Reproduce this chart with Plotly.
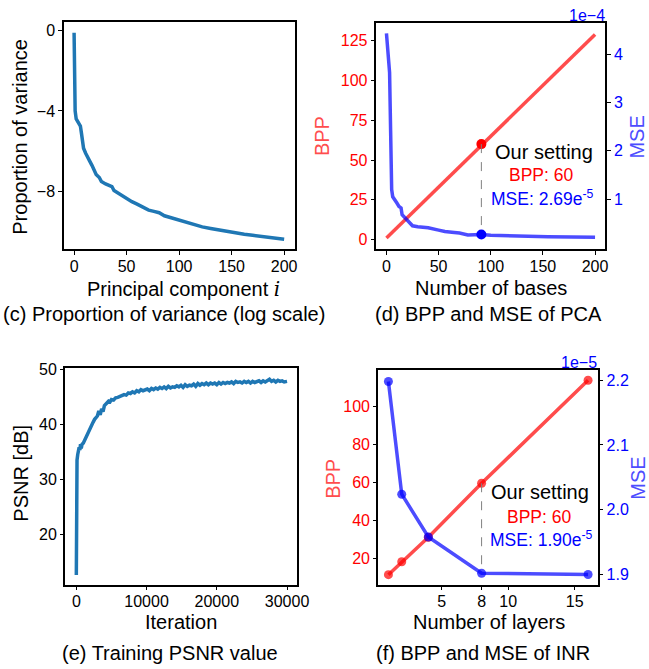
import plotly.graph_objects as go

W, H = 649, 669
FIG_W = 664   # page comes out horizontally squeezed by ~649/664, so lay out wider
FONT = "Liberation Sans, Arial, sans-serif"

# ---------------- data ----------------
# (c) proportion of variance (log scale)
VAR_X = [0, 1, 2, 4, 6, 7, 8, 9, 11, 13, 15, 17, 19, 21, 24, 26, 30, 34, 36, 38, 42, 46,
         50, 55, 60, 65, 71, 76, 81, 86, 91, 100, 110, 122, 130, 138, 146, 154, 162, 170,
         178, 186, 193, 200]
VAR_Y = [-0.12, -4.0, -4.4, -4.6, -4.75, -5.1, -5.5, -5.85, -6.1, -6.35, -6.5, -6.7, -6.9,
         -7.15, -7.3, -7.5, -7.62, -7.72, -7.75, -7.95, -8.08, -8.25, -8.35, -8.5, -8.62,
         -8.75, -8.92, -8.98, -9.05, -9.2, -9.28, -9.42, -9.58, -9.75, -9.83, -9.91, -9.99,
         -10.06, -10.12, -10.17, -10.22, -10.27, -10.31, -10.36]

# (d) BPP and MSE of PCA
PCA_BPP_X = [0, 200]
PCA_BPP = [1.0, 128.9]
PCA_MSE_X = [0, 1, 2, 3, 4, 5, 6, 8, 10, 12, 14, 15, 17, 20, 23, 25, 30, 40, 50, 56, 65,
             70, 78, 85, 91, 100, 123, 155, 200]
PCA_MSE_E4 = [4.43, 4.15, 3.8, 3.62, 2.4, 1.2, 1.05, 0.97, 0.92, 0.85, 0.82, 0.68, 0.63,
              0.57, 0.49, 0.45, 0.43, 0.41, 0.36, 0.33, 0.31, 0.30, 0.26, 0.265, 0.269,
              0.255, 0.235, 0.22, 0.21]   # units of 1e-4
PCA_SEL_X = 91
PCA_SEL_BPP = 60
PCA_SEL_MSE_E4 = 0.269

# (e) training PSNR
ITER = [0, 30, 60, 100, 200, 300, 400, 500, 600, 700, 800, 1000, 1200, 1400, 1600, 1800,
        2000, 2200, 2400, 2600, 2800, 3000, 3200, 3400, 3600, 3800, 4000, 4200, 4400, 4600,
        4800, 5000, 5300, 5600, 5900, 6200, 6500, 6800, 7100, 7400, 7700, 8000, 8300, 8600,
        8900, 9200, 9500, 9800, 10100, 10400, 10700, 11000, 11300, 11600, 11900, 12200,
        12500, 12800, 13100, 13400, 13700, 14000, 14300, 14600, 14900, 15200, 15500, 15800,
        16100, 16400, 16700, 17000, 17300, 17600, 17900, 18200, 18500, 18800, 19100, 19400,
        19700, 20000, 20300, 20600, 20900, 21200, 21500, 21800, 22100, 22400, 22700, 23000,
        23300, 23600, 23900, 24200, 24500, 24800, 25100, 25400, 25700, 26000, 26300, 26600,
        26900, 27200, 27500, 27800, 28100, 28400, 28700, 29000, 29300, 29600, 30000]
PSNR = [12.6, 25.0, 31.5, 33.5, 34.5, 35.3, 35.8, 35.3, 36.4, 35.6, 36.3, 36.6, 37.2, 37.6,
        38.1, 38.6, 39.3, 40.0, 40.4, 40.9, 41.2, 41.5, 42.4, 41.7, 42.8, 42.3, 43.4, 43.6,
        44.0, 44.2, 44.1, 44.5, 44.4, 44.8, 44.9, 45.1, 45.3, 45.4, 45.3, 45.7, 45.6, 45.9,
        45.7, 46.1, 45.9, 46.3, 46.1, 46.2, 46.4, 46.1, 46.5, 46.3, 46.6, 46.4, 46.7, 46.5,
        46.8, 46.5, 46.9, 46.6, 46.8, 46.7, 47.0, 46.8, 47.1, 46.7, 47.2, 46.9, 47.1, 47.0,
        47.3, 46.9, 47.4, 47.1, 47.4, 47.2, 47.5, 47.2, 47.5, 47.3, 47.5, 47.2, 47.6, 47.3,
        47.6, 47.4, 47.6, 47.5, 47.7, 47.4, 47.8, 47.6, 47.7, 47.5, 47.8, 47.6, 47.8, 47.5,
        47.8, 47.6, 47.7, 47.9, 47.6, 47.9, 47.7, 48.0, 48.2, 47.8, 48.0, 47.7, 48.0, 47.8,
        47.9, 47.7, 47.8]

# (f) BPP and MSE of INR
LAYERS = [1, 2, 4, 8, 16]
INR_BPP = [11.3, 18.1, 31.1, 59.6, 114.0]
INR_MSE_E5 = [2.198, 2.024, 1.958, 1.902, 1.900]   # units of 1e-5
INR_SEL_X = 8
INR_SEL_BPP = 59.6
INR_SEL_MSE_E5 = 1.902

# ---------------- styling ----------------
BLUE_T = "#1f77b4"
RED_A = "rgba(255,0,0,0.7)"
BLUE_A = "rgba(0,0,255,0.7)"
RED_TITLE = "#ff4d4d"
BLUE_TITLE = "#4d4dff"


def px_x(p):
    return p / W


def px_y(p):
    return 1 - p / H


DOM = {
    "c": ([px_x(63.3), px_x(293.3)], [px_y(245), px_y(15)]),
    "d": ([px_x(374.3), px_x(602.7)], [px_y(245), px_y(16)]),
    "e": ([px_x(65), px_x(296)], [px_y(584), px_y(365)]),
    "f": ([px_x(376.7), px_x(595.3)], [px_y(584), px_y(366.7)]),
}

RANGES = {
    "c_x": [-10, 210], "c_y": [-10.87, 0.42],
    "d_x": [-10, 210], "d_y": [-6.2, 136.2], "d_y2": [-0.04, 4.65],
    "e_x": [-1570, 31470], "e_y": [10.8, 50.2],
    "f_x": [0.25, 16.75], "f_y": [5.9, 119.5], "f_y2": [1.884, 2.216],
}

TICKF = 16


def axis(domain, rng, anchor, tickvals, tickcolor="black", side=None, mirror=True,
         overlaying=None, ticktext=None, is_x=False):
    a = dict(domain=domain, range=rng, anchor=anchor, showgrid=False, zeroline=False,
             showline=True, linecolor="black", linewidth=1.6, mirror=mirror,
             ticks="outside", ticklen=3.5, tickwidth=1.2, tickcolor="black",
             tickvals=tickvals, tickfont=dict(family=FONT, size=TICKF, color=tickcolor))
    if is_x:
        a["ticklabelstandoff"] = -2
        a["tickformat"] = "d"
    if ticktext is not None:
        a["ticktext"] = ticktext
    if side:
        a["side"] = side
    if overlaying:
        a["overlaying"] = overlaying
        a.pop("domain")
    return a


fig = go.Figure()

# (c)
fig.add_trace(go.Scatter(x=VAR_X, y=VAR_Y, mode="lines", line=dict(color=BLUE_T, width=3.5),
                         xaxis="x", yaxis="y"))
# (d)
fig.add_trace(go.Scatter(x=PCA_BPP_X, y=PCA_BPP, mode="lines", line=dict(color=RED_A, width=3.5),
                         xaxis="x2", yaxis="y2"))
d_lo, d_hi = RANGES["d_y"]
m_lo, m_hi = RANGES["d_y2"]
sel_top_d = m_lo + (PCA_SEL_BPP - d_lo) / (d_hi - d_lo) * (m_hi - m_lo)
fig.add_trace(go.Scatter(x=[PCA_SEL_X, PCA_SEL_X], y=[sel_top_d, PCA_SEL_MSE_E4], mode="lines",
                         line=dict(color="gray", width=1, dash="dash"), xaxis="x2", yaxis="y3"))
fig.add_trace(go.Scatter(x=PCA_MSE_X, y=PCA_MSE_E4, mode="lines", line=dict(color=BLUE_A, width=3.5),
                         xaxis="x2", yaxis="y3"))
fig.add_trace(go.Scatter(x=[PCA_SEL_X], y=[PCA_SEL_BPP], mode="markers",
                         marker=dict(color="red", size=10), xaxis="x2", yaxis="y2"))
fig.add_trace(go.Scatter(x=[PCA_SEL_X], y=[PCA_SEL_MSE_E4], mode="markers",
                         marker=dict(color="blue", size=10), xaxis="x2", yaxis="y3"))
# (e)
fig.add_trace(go.Scatter(x=ITER, y=PSNR, mode="lines", line=dict(color=BLUE_T, width=3.5),
                         xaxis="x3", yaxis="y4"))
# (f)
fig.add_trace(go.Scatter(x=LAYERS, y=INR_BPP, mode="lines+markers",
                         line=dict(color=RED_A, width=3.5), marker=dict(color=RED_A, size=9),
                         xaxis="x4", yaxis="y5"))
f_lo, f_hi = RANGES["f_y"]
g_lo, g_hi = RANGES["f_y2"]
sel_top_f = g_lo + (INR_SEL_BPP - f_lo) / (f_hi - f_lo) * (g_hi - g_lo)
fig.add_trace(go.Scatter(x=[INR_SEL_X, INR_SEL_X], y=[sel_top_f, INR_SEL_MSE_E5], mode="lines",
                         line=dict(color="gray", width=1, dash="dash"), xaxis="x4", yaxis="y6"))
fig.add_trace(go.Scatter(x=LAYERS, y=INR_MSE_E5, mode="lines+markers",
                         line=dict(color=BLUE_A, width=3.5), marker=dict(color=BLUE_A, size=9),
                         xaxis="x4", yaxis="y6"))

layout = dict(
    width=FIG_W, height=H, autosize=False, margin=dict(l=0, r=0, t=0, b=0), showlegend=False,
    plot_bgcolor="white", paper_bgcolor="white",
    font=dict(family=FONT, color="black"),
    xaxis=axis(DOM["c"][0], RANGES["c_x"], "y", [0, 50, 100, 150, 200], is_x=True),
    yaxis=axis(DOM["c"][1], RANGES["c_y"], "x", [0, -4, -8]),
    xaxis2=axis(DOM["d"][0], RANGES["d_x"], "y2", [0, 50, 100, 150, 200], is_x=True),
    yaxis2=axis(DOM["d"][1], RANGES["d_y"], "x2", [0, 25, 50, 75, 100, 125], tickcolor="red",
                mirror=False),
    yaxis3=axis(None, RANGES["d_y2"], "x2", [1, 2, 3, 4], tickcolor="blue", side="right",
                mirror=False, overlaying="y2"),
    xaxis3=axis(DOM["e"][0], RANGES["e_x"], "y4", [0, 10000, 20000, 30000], is_x=True),
    yaxis4=axis(DOM["e"][1], RANGES["e_y"], "x3", [20, 30, 40, 50]),
    xaxis4=axis(DOM["f"][0], RANGES["f_x"], "y5", [5, 8, 10, 15], is_x=True),
    yaxis5=axis(DOM["f"][1], RANGES["f_y"], "x4", [20, 40, 60, 80, 100], tickcolor="red",
                mirror=False),
    yaxis6=axis(None, RANGES["f_y2"], "x4", [1.9, 2.0, 2.1, 2.2], tickcolor="blue", side="right",
                mirror=False, overlaying="y5", ticktext=["1.9", "2.0", "2.1", "2.2"]),
)
fig.update_layout(**layout)

ann = []


def txt(text, x, y, size, color="black", angle=0):
    ann.append(dict(text=text, x=px_x(x), y=px_y(y), xref="paper", yref="paper",
                    xanchor="center", yanchor="middle", showarrow=False, textangle=angle,
                    font=dict(family=FONT, size=size, color=color)))


TS = 20
CS = 20
txt('Principal component <span style="font-family:DejaVu Serif"><i>i</i></span>', 182.5, 285, TS)
txt("Proportion of variance", 20, 131, TS, angle=-90)
txt("Number of bases", 488.7, 283.5, TS)
txt("BPP", 320, 130, TS, RED_TITLE, -90)
txt("MSE", 634, 131, TS, BLUE_TITLE, -90)
txt("1e\u22124", 584.3, 9, 16, "blue")
txt("Iteration", 180.5, 621.5, TS)
txt("PSNR [dB]", 20, 471.5, TS, angle=-90)
txt("Number of layers", 486.7, 621.5, TS)
txt("BPP", 330.8, 476.5, TS, RED_TITLE, -90)
txt("MSE", 635, 475.8, TS, BLUE_TITLE, -90)
txt("1e\u22125", 576.2, 359, 16, "blue")
txt("Our setting", 541, 147, 20)
txt("BPP: 60", 539, 169.5, 17.5, "red")
txt("MSE: 2.69e<sup>-5</sup>", 540, 193, 17.5, "blue")
txt("Our setting", 538, 490, 20)
txt("BPP: 60", 536.3, 515.5, 17.5, "red")
txt("MSE: 1.90e<sup>-5</sup>", 539, 537.5, 17.5, "blue")
txt("(c) Proportion of variance (log scale)", 163.3, 310.5, CS)
txt("(d) BPP and MSE of PCA", 486.7, 310.5, CS)
txt("(e) Training PSNR value", 169.2, 653.3, CS)
txt("(f) BPP and MSE of INR", 480.8, 653.3, CS)

fig.update_layout(annotations=ann)
fig.write_html("out.html", config={"responsive": False})
